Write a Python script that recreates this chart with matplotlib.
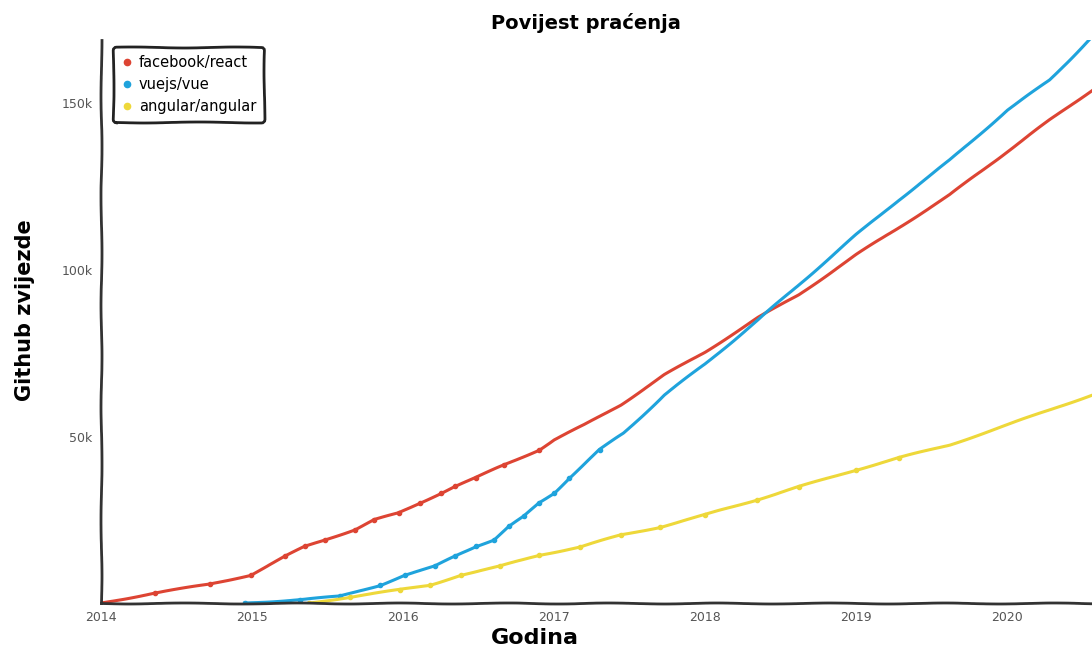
import matplotlib
matplotlib.use('Agg')
import matplotlib.pyplot as plt
from matplotlib.lines import Line2D

# star history, values in thousands of stars
react_x = [2014.0, 2014.36, 2014.72, 2014.99, 2015.22, 2015.35, 2015.48, 2015.68, 2015.81,
           2015.97, 2016.11, 2016.25, 2016.34, 2016.48, 2016.67, 2016.9, 2017.0, 2017.2,
           2017.44, 2017.73, 2018.0, 2018.35, 2018.62, 2019.0, 2019.28, 2019.62, 2020.0,
           2020.28, 2020.56]
react_y = [0, 3, 5.7, 8.4, 14, 17, 19, 22, 25, 27, 30, 33, 35, 37.6, 41.5, 46, 49, 53.5,
           59.5, 68.5, 75.4, 85.7, 92.6, 104.6, 112.7, 122.6, 135.6, 145, 154]

vue_x = [2014.95, 2015.32, 2015.58, 2015.85, 2016.01, 2016.21, 2016.34, 2016.48, 2016.6,
         2016.7, 2016.8, 2016.9, 2017.0, 2017.1, 2017.3, 2017.46, 2017.73, 2018.0, 2018.35,
         2018.62, 2019.0, 2019.28, 2019.62, 2020.0, 2020.28, 2020.56]
vue_y = [0, 1, 2, 5.4, 8.4, 11, 14, 17, 19, 23, 26, 30, 33, 37.6, 46, 51, 62.5, 71.8, 85,
         95.6, 110.6, 121, 133, 148, 157, 170]

angular_x = [2015.38, 2015.65, 2015.98, 2016.18, 2016.38, 2016.64, 2016.9, 2017.17, 2017.44,
             2017.7, 2018.0, 2018.34, 2018.62, 2019.0, 2019.28, 2019.62, 2020.0, 2020.28,
             2020.56]
angular_y = [0, 1.8, 4, 5.4, 8.4, 11, 14.4, 16.8, 20.4, 22.8, 26.5, 31, 34.9, 40, 43.6, 47.5,
             53.5, 58, 62.5]

series = ['facebook/react', 'vuejs/vue', 'angular/angular']
colors = ['#dd4433', '#1fa3dc', '#eed83a']
years = [2014, 2015, 2016, 2017, 2018, 2019, 2020]
yticks = [50, 100, 150]

with plt.xkcd(scale=0.5, length=120, randomness=2):
    plt.rcParams['font.family'] = ['DejaVu Sans']
    plt.rcParams['path.effects'] = []
    fig = plt.figure(figsize=(10.92, 6.48), dpi=100)
    ax = fig.add_axes([0.0925, 0.0694, 0.9075, 0.8686])

    ax.plot(react_x, react_y, color=colors[0], lw=2.2, marker='o', ms=3,
            markevery=slice(0, 16))
    ax.plot(vue_x, vue_y, color=colors[1], lw=2.2, marker='o', ms=3,
            markevery=slice(0, 15))
    ax.plot(angular_x, angular_y, color=colors[2], lw=2.2, marker='o', ms=3,
            markevery=slice(0, 15))

    ax.set_xlim(2014, 2020.56)
    ax.set_ylim(0, 169)
    ax.spines['top'].set_visible(False)
    ax.spines['right'].set_visible(False)
    ax.spines['left'].set_color('#333333')
    ax.spines['bottom'].set_color('#333333')
    ax.spines['left'].set_linewidth(2)
    ax.spines['bottom'].set_linewidth(2)

    ax.set_xticks(years)
    ax.set_xticklabels([str(y) for y in years], fontsize=9, color='#555555')
    ax.set_yticks(yticks)
    ax.set_yticklabels(['%dk' % v for v in yticks], fontsize=9, color='#555555')
    ax.tick_params(length=0, pad=6)

    ax.text(0.489, 1.013, 'Povijest praćenja', transform=ax.transAxes, ha='center',
            va='bottom', fontsize=14, fontweight='bold')
    ax.set_xlabel('Godina', fontsize=16, fontweight='bold')
    ax.xaxis.set_label_coords(0.438, -0.045)
    ax.set_ylabel('Github zvijezde', fontsize=15, fontweight='bold')
    ax.yaxis.set_label_coords(-0.067, 0.52)

    handles = [Line2D([], [], color=c, marker='o', ls='none', ms=4.5) for c in colors]
    leg = ax.legend(handles, series, loc='upper left', bbox_to_anchor=(0.005, 1.0),
                    fontsize=10.5, handletextpad=0.4, handlelength=0.8,
                    borderpad=0.55, labelspacing=0.45, framealpha=1, fancybox=True)
    leg.get_frame().set_edgecolor('#222222')
    leg.get_frame().set_linewidth(2)

    fig.savefig('out.png', dpi=100)
